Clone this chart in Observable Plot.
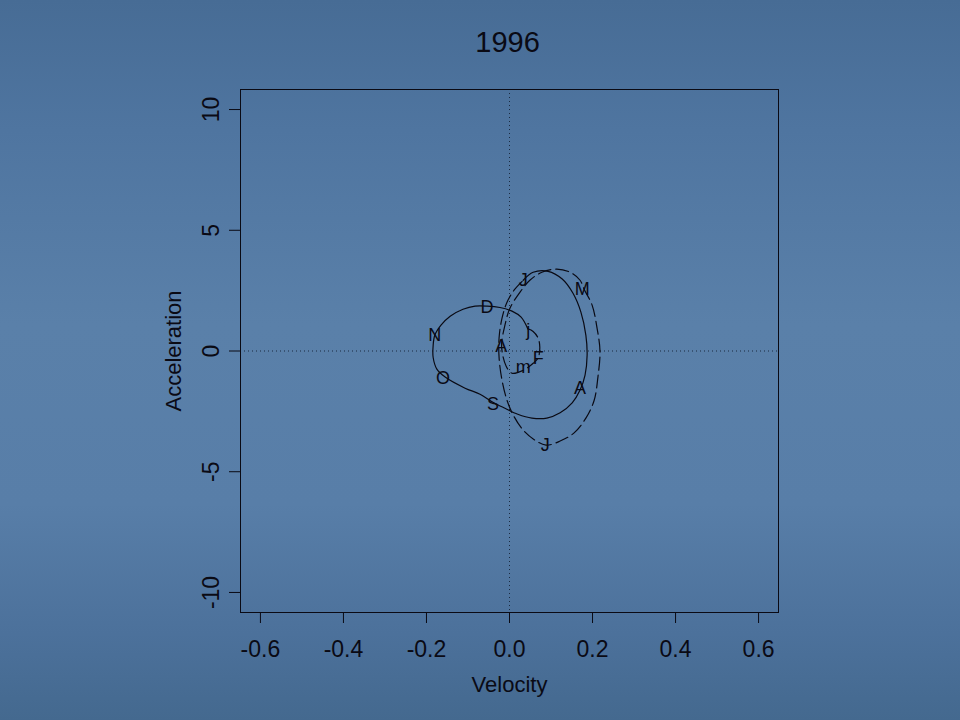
<!DOCTYPE html>
<html>
<head>
<meta charset="utf-8">
<script src="https://cdn.jsdelivr.net/npm/d3@7"></script>
<script src="https://cdn.jsdelivr.net/npm/@observablehq/plot@0.6"></script>
<style>
  html, body { margin: 0; padding: 0; }
  #wrap {
    width: 960px; height: 720px; position: relative; overflow: hidden;
    background: linear-gradient(180deg, #476c95 0%, #4f75a0 18%, #5a80a9 45%, #587ea8 70%, #4c719b 88%, #44698f 100%);
    font-family: "Liberation Sans", Arial, sans-serif;
  }
  #wrap svg { position: absolute; left: 0; top: 0; }
</style>
</head>
<body>
<div id="wrap"></div>
<script>
const titleText = "1996";
const xLabel = "Velocity";
const yLabel = "Acceleration";
const xTicks = [-0.6, -0.4, -0.2, 0, 0.2, 0.4, 0.6];
const yTicks = [-10, -5, 0, 5, 10];

// First half of the year (January -> July), long-dashed
const velJanJul = [0.044, 0.057, 0.069, 0.073, 0.069, 0.057, 0.033, 0.006, -0.008, -0.019, -0.011, 0.001, 0.025, 0.049, 0.078, 0.114, 0.146, 0.170, 0.180, 0.199, 0.211, 0.218, 0.213, 0.204, 0.184, 0.155, 0.122, 0.088, 0.061, 0.033, 0.008, -0.006, -0.018, -0.025, -0.025, -0.018, -0.006, 0.011, 0.033];
const accJanJul = [0.92, 0.81, 0.53, 0.16, -0.28, -0.51, -0.80, -0.92, -0.63, 0.20, 1.07, 1.77, 2.43, 2.93, 3.26, 3.39, 3.26, 2.93, 2.55, 1.90, 0.94, -0.01, -1.08, -2.04, -2.78, -3.40, -3.73, -3.90, -3.69, -3.28, -2.62, -2.04, -1.21, -0.30, 0.57, 1.36, 2.02, 2.52, 2.93];

// Second half of the year (July -> January), solid
const velJulJan = [0.033, 0.057, 0.093, 0.127, 0.153, 0.172, 0.184, 0.187, 0.182, 0.170, 0.151, 0.122, 0.090, 0.054, 0.020, -0.011, -0.040, -0.071, -0.107, -0.155, -0.175, -0.184, -0.184, -0.180, -0.165, -0.143, -0.112, -0.083, -0.054, -0.023, 0.006, 0.028, 0.044];
const accJulJan = [2.93, 3.26, 3.30, 2.98, 2.39, 1.61, 0.65, -0.17, -1.00, -1.62, -2.15, -2.56, -2.78, -2.78, -2.62, -2.37, -2.12, -1.79, -1.54, -1.08, -0.75, -0.26, 0.20, 0.65, 1.07, 1.44, 1.73, 1.86, 1.86, 1.80, 1.65, 1.40, 0.92];

// Month letters and their positions
const monthLetters = ["j", "F", "m", "A", "M", "J", "J", "A", "S", "O", "N", "D"];
const monthVel = [0.045, 0.069, 0.033, -0.020, 0.175, 0.086, 0.033, 0.170, -0.040, -0.160, -0.180, -0.054];
const monthAcc = [0.86, -0.30, -0.68, 0.20, 2.56, -3.89, 2.93, -1.54, -2.20, -1.13, 0.65, 1.81];

const firstHalf = velJanJul.map((v, i) => ({v, a: accJanJul[i]}));
const secondHalf = velJulJan.map((v, i) => ({v, a: accJulJan[i]}));
const months = monthLetters.map((m, i) => ({m, v: monthVel[i], a: monthAcc[i]}));

const ink = "#0a0a14";
const fontFamily = "'Liberation Sans', Arial, sans-serif";

const chart = Plot.plot({
  width: 960,
  height: 720,
  marginLeft: 240,
  marginRight: 182,
  marginTop: 89,
  marginBottom: 108,
  style: {background: "transparent", fontFamily, color: ink, overflow: "visible"},
  x: {domain: [-0.648, 0.648], axis: null, label: null},
  y: {domain: [-10.83, 10.83], axis: null, label: null},
  marks: [
    Plot.ruleX([0], {stroke: "#1a2a40", strokeDasharray: "1,3", strokeWidth: 1}),
    Plot.ruleY([0], {stroke: "#1a2a40", strokeDasharray: "1,3", strokeWidth: 1}),
    Plot.line(firstHalf, {x: "v", y: "a", curve: "catmull-rom", stroke: ink, strokeWidth: 1.2, strokeDasharray: "13,5"}),
    Plot.line(secondHalf, {x: "v", y: "a", curve: "catmull-rom", stroke: ink, strokeWidth: 1.2}),
    Plot.text(months, {x: "v", y: "a", text: "m", fontSize: 18, fill: ink}),
    Plot.frame({stroke: ink, strokeWidth: 1}),
    Plot.axisX(xTicks, {tickSize: 11, tickFormat: () => "", stroke: ink, label: null}),
    Plot.axisY(yTicks, {tickSize: 11, tickFormat: () => "", stroke: ink, label: null}),
    Plot.text(xTicks, {x: d => d, frameAnchor: "bottom", dy: 37, lineAnchor: "middle", textAnchor: "middle", text: d => d.toFixed(1), fontSize: 23, fill: ink}),
    Plot.text(yTicks, {y: d => d, frameAnchor: "left", dx: -29, rotate: -90, lineAnchor: "middle", textAnchor: "middle", text: d => String(d), fontSize: 23, fill: ink}),
    Plot.text([xLabel], {frameAnchor: "bottom", dy: 72, lineAnchor: "middle", textAnchor: "middle", text: d => d, fontSize: 22, fill: ink}),
    Plot.text([yLabel], {frameAnchor: "left", dx: -67, rotate: -90, lineAnchor: "middle", textAnchor: "middle", text: d => d, fontSize: 22, fill: ink}),
    Plot.text([titleText], {frameAnchor: "top", dy: -47, dx: -2, lineAnchor: "middle", textAnchor: "middle", text: d => d, fontSize: 29, fill: ink})
  ]
});
document.getElementById("wrap").appendChild(chart);
</script>
</body>
</html>
